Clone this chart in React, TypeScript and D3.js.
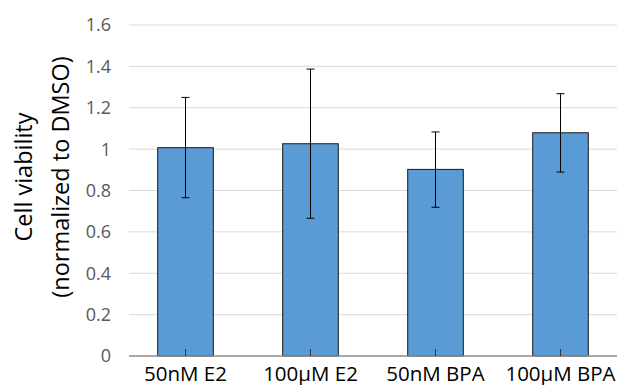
import React from "react";
import * as d3 from "d3";

const categories = ["50nM E2", "100μM E2", "50nM BPA", "100μM BPA"];
const means = [1.007, 1.026, 0.902, 1.079];
const errUpper = [1.25, 1.387, 1.083, 1.268];
const errLower = [0.765, 0.666, 0.719, 0.889];
const yTicks = [0, 0.2, 0.4, 0.6, 0.8, 1, 1.2, 1.4, 1.6];

const width = 622;
const height = 385;
const margin = { top: 25, right: -1, bottom: 29, left: 123 };
const font = "'Open Sans', 'Liberation Sans', sans-serif";

const App: React.FC = () => {
  const x = d3
    .scaleBand()
    .domain(categories)
    .range([margin.left, width - margin.right])
    .paddingInner(0.555)
    .paddingOuter(0.2775);

  const y = d3
    .scaleLinear()
    .domain([0, 1.6])
    .range([height - margin.bottom, margin.top]);

  const gridLeft = 129;
  const gridRight = 617;
  const capW = 4;

  return (
    <svg
      width={width}
      height={height}
      style={{ position: "absolute", left: 0, top: 0, background: "#fff" }}
    >
      {/* gridlines */}
      {yTicks.slice(1).map((t) => (
        <line
          key={t}
          x1={gridLeft}
          x2={gridRight}
          y1={y(t)}
          y2={y(t)}
          stroke="#d9d9d9"
          strokeWidth={1}
        />
      ))}
      {/* y tick labels */}
      {yTicks.map((t) => (
        <text
          key={t}
          x={111}
          y={y(t)}
          dy="0.36em"
          textAnchor="end"
          fontFamily={font}
          fontSize={18}
          fill="#595959"
        >
          {d3.format("~g")(t)}
        </text>
      ))}
      {/* bars */}
      {categories.map((c, i) => (
        <rect
          key={c}
          x={x(c)!}
          y={y(means[i])}
          width={x.bandwidth()}
          height={y(0) - y(means[i])}
          fill="#5b9bd5"
          stroke="#1a1a1a"
          strokeWidth={1}
        />
      ))}
      {/* error bars */}
      {categories.map((c, i) => {
        const cx = x(c)! + x.bandwidth() / 2;
        return (
          <g key={c} stroke="#000" strokeWidth={1}>
            <line x1={cx} x2={cx} y1={y(errUpper[i])} y2={y(errLower[i])} />
            <line x1={cx - capW} x2={cx + capW} y1={y(errUpper[i])} y2={y(errUpper[i])} />
            <line x1={cx - capW} x2={cx + capW} y1={y(errLower[i])} y2={y(errLower[i])} />
          </g>
        );
      })}
      {/* x axis */}
      <line
        x1={gridLeft}
        x2={gridRight}
        y1={y(0)}
        y2={y(0)}
        stroke="#8c8c8c"
        strokeWidth={1.3}
      />
      {categories.map((c) => {
        const cx = x(c)! + x.bandwidth() / 2;
        return (
          <line
            key={c}
            x1={cx}
            x2={cx}
            y1={y(0)}
            y2={y(0) - 7}
            stroke="#333"
            strokeWidth={1}
          />
        );
      })}
      {categories.map((c) => (
        <text
          key={c}
          x={x(c)! + x.bandwidth() / 2}
          y={381}
          textAnchor="middle"
          fontFamily={font}
          fontSize={20.5}
          fill="#000"
        >
          {c}
        </text>
      ))}
      {/* y axis title */}
      <g transform={`translate(0, 177) rotate(-90)`}>
        <text
          x={0}
          y={32}
          textAnchor="middle"
          fontFamily={font}
          fontSize={23.5}
          fill="#000"
        >
          Cell viability
        </text>
        <text
          x={0}
          y={69}
          textAnchor="middle"
          fontFamily={font}
          fontSize={23.5}
          fill="#000"
        >
          (normalized to DMSO)
        </text>
      </g>
    </svg>
  );
};

export default App;
